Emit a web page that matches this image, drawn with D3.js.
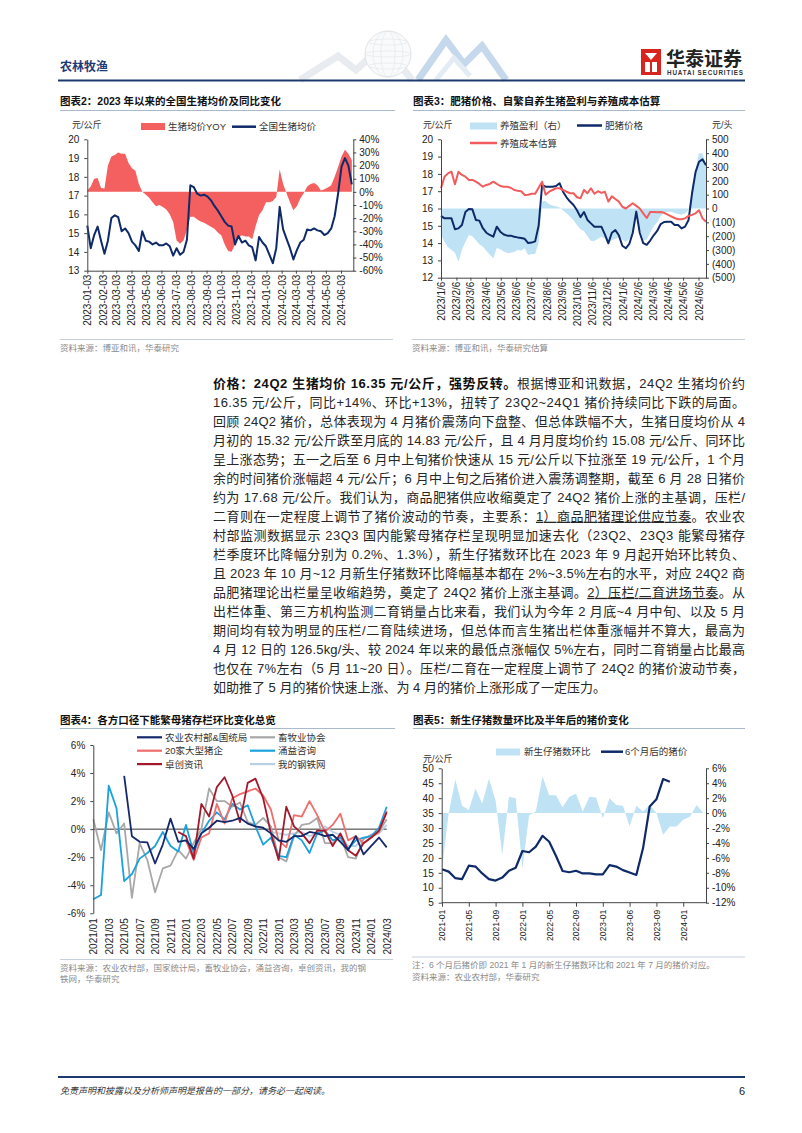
<!DOCTYPE html>
<html>
<head>
<meta charset="utf-8">
<script src="https://cdn.jsdelivr.net/npm/d3@7"></script>
<style>
    body { margin: 0; background: #fff; }
    svg text { font-family: "Liberation Sans", Arial, "Noto Sans CJK SC", sans-serif; }
    .tick text { font-size: 10px; fill: #222; }
    .title { font-size: 10.5px; font-weight: bold; fill: #111; }
    .src { font-size: 8.5px; fill: #8a8a8a; }
    .lg { font-size: 9.5px; fill: #333; }
    .unit { font-size: 9px; fill: #333; }
    .body { font-size: 13px; fill: #262626; }
</style>
</head>
<body>
<div id="page"></div>
<script>

// ===== 图表2 数据：2023年以来全国生猪均价（周度）及同比 =====
const c2Start = "2023-01-03";
const c2Price = [15.4,14.2,14.9,15.35,14.6,13.9,14.6,15.8,15.95,15.85,
    15.1,15.25,15.0,14.55,14.35,14.05,15.1,14.6,14.55,14.4,
    14.5,14.35,14.35,14.45,14.3,13.8,14.2,13.85,14.0,14.65,
    17.55,17.45,17.1,17.0,17.05,16.95,16.75,16.45,16.2,15.9,
    15.6,15.4,15.35,14.4,14.85,14.5,14.6,14.35,14.25,13.55,
    14.8,14.5,14.3,13.85,13.4,14.2,16.4,15.2,14.7,14.2,
    13.6,14.1,14.5,14.65,15.2,15.15,15.25,15.15,15.1,14.9,
    15.0,15.25,15.9,17.1,18.55,19.0,18.6,17.6];
const c2Yoy = [1,4,10,10.5,3,2.5,20,27,28,30,
    29,29,22,18,16,6,0,-2,-4.5,-8,
    -11,-10,-11.5,-13.5,-17,-23,-37,-39.5,-37,-29,
    -19,-19,-21,-22.5,-23.5,-25,-26.5,-28,-31,-33,
    -40,-45,-45.5,-40,-35,-33,-34,-34,-36,-26,
    -17.6,-14,-8,-8,-7,-4,17,6,-1,-8,
    -14,-11,-5,-1,4,6,6.8,5,1,2,
    3.4,5,11.5,19,27,32,29,24];
const c2DateTicks = ["2023-01-03","2023-02-03","2023-03-03","2023-04-03","2023-05-03","2023-06-03",
    "2023-07-03","2023-08-03","2023-09-03","2023-10-03","2023-11-03","2023-12-03",
    "2024-01-03","2024-02-03","2024-03-03","2024-04-03","2024-05-03","2024-06-03"];
const c2LeftTicks = [13,14,15,16,17,18,19,20];
const c2RightTicks = [-60,-50,-40,-30,-20,-10,0,10,20,30,40];

// ===== 图表3 数据：肥猪价格、养殖成本、自繁自养盈利（周度） =====
const c3Start = "2023-01-06";
const c3Price = [15.57,15.43,15.43,15.43,14.8,14.85,15.05,15.8,15.97,15.95,
    15.34,15.3,14.86,14.6,14.47,14.37,14.95,14.66,14.5,14.43,
    14.43,14.37,14.33,14.3,14.25,14.0,14.03,14.1,15.0,17.36,
    17.26,17.26,17.26,17.3,17.46,16.97,16.65,16.4,16.2,15.9,
    15.5,15.8,15.34,15.14,14.95,14.95,14.95,14.5,13.99,14.6,
    14.75,14.45,13.85,13.7,13.95,14.6,15.82,14.6,14.0,13.9,
    14.15,14.45,14.7,15.1,15.22,15.24,15.24,15.05,15.05,14.85,
    14.95,15.34,16.88,18.1,18.7,18.84,18.5];
const c3Cost = [17.17,17.84,18.03,18.13,17.4,18.13,17.94,17.84,17.65,17.65,
    17.55,17.42,17.26,17.36,17.42,17.55,17.42,17.3,17.26,17.26,
    17.2,17.07,17.03,17.0,16.78,16.8,16.85,16.85,17.2,17.55,
    16.8,16.97,17.07,17.17,17.17,17.07,16.97,16.88,16.88,16.65,
    16.59,17.07,16.88,17.17,16.85,17.0,16.9,16.97,16.4,16.7,
    16.55,16.4,16.1,16.0,16.15,16.3,16.15,16.0,15.72,15.45,
    15.8,15.8,15.78,15.8,15.75,15.65,15.55,15.45,15.38,15.38,
    15.43,15.57,15.63,15.72,15.9,15.43,15.24];
const c3Profit = [-190,-240,-278,-300,-320,-385,-300,-240,-192,-200,
    -230,-258,-276,-305,-335,-360,-285,-295,-310,-322,
    -320,-312,-300,-305,-288,-336,-329,-329,-250,50,
    55,30,22,16,8,-15,-35,-60,-85,-120,
    -150,-165,-200,-235,-234,-218,-204,-216,-260,-228,
    -220,-206,-225,-240,-220,-170,-70,-140,-228,-225,
    -175,-130,-100,-55,-28,-23,-23,-33,-40,-46,
    -35,-11,140,280,399,400,314];
const c3DateTicks = ["2023/1/6","2023/2/6","2023/3/6","2023/4/6","2023/5/6","2023/6/6",
    "2023/7/6","2023/8/6","2023/9/6","2023/10/6","2023/11/6","2023/12/6",
    "2024/1/6","2024/2/6","2024/3/6","2024/4/6","2024/5/6","2024/6/6"];
const c3LeftTicks = [12,13,14,15,16,17,18,19,20];
const c3RightTicks = [-500,-400,-300,-200,-100,0,100,200,300,400,500];

// ===== 图表4 数据：各方口径能繁母猪存栏环比（%，月度） =====
const c4Months = ["2021/01","2021/02","2021/03","2021/04","2021/05","2021/06","2021/07","2021/08","2021/09","2021/10","2021/11","2021/12",
    "2022/01","2022/02","2022/03","2022/04","2022/05","2022/06","2022/07","2022/08","2022/09","2022/10","2022/11","2022/12",
    "2023/01","2023/02","2023/03","2023/04","2023/05","2023/06","2023/07","2023/08","2023/09","2023/10","2023/11","2023/12",
    "2024/01","2024/02","2024/03"];
const c4Moa = [null,null,null,null,3.8,-0.5,-0.9,-0.95,-2.45,-1.1,0.75,-0.9,
    -0.8,-1.4,-0.3,0.1,0.6,0.5,0.6,0.8,0.4,0.2,0.1,-0.3,
    -0.8,-0.9,-0.5,-0.5,-0.2,-0.3,-0.5,-0.4,-0.9,-1.5,-0.5,-1.8,
    -1.2,-0.6,-1.3];
const c4Assoc = [0.7,-1.5,1.2,-0.3,0.4,-4.9,-1.0,-2.2,-4.5,-2.8,-2.6,-1.5,
    -2.1,-1.0,0.0,2.9,2.0,2.0,1.6,1.9,0.5,0.3,0.8,0.2,
    -2.0,-2.3,-0.5,0.3,0.4,0.8,-1.0,-1.0,-0.5,-2.0,-2.1,-0.7,
    -0.4,-0.2,0.7];
const c4Big20 = [null,null,null,null,null,null,null,null,null,null,null,null,
    -0.8,-2.2,-0.6,-0.3,1.8,0.4,2.2,2.5,2.7,2.9,2.4,1.4,
    -0.8,-1.3,1.0,0.9,2.0,1.0,-0.2,0.3,1.1,-0.8,-0.5,-1.0,
    -0.6,-0.2,1.3];
const c4Yongyi = [-5.0,-4.7,3.1,1.5,-3.7,-3.2,-2.1,-1.7,-1.2,-0.2,-1.2,-1.6,
    0.3,-1.7,-0.3,0.6,1.2,0.7,1.8,1.4,1.7,0.2,-1.1,-0.6,
    -1.9,-2.0,-0.4,-0.8,-1.7,-0.3,-0.1,-0.8,-0.6,-1.4,-0.8,-0.6,
    -0.5,0.1,1.6];
const c4Zhuochuang = [null,null,null,null,null,null,null,null,null,null,null,-0.2,
    -0.5,-2.1,1.8,0.9,3.0,3.7,2.4,0.5,3.3,3.6,2.2,-0.3,
    -2.2,1.6,0.2,-0.3,-1.0,-0.1,-0.1,-1.2,-0.3,-1.5,-1.9,-1.0,
    -0.6,-0.1,1.2];
const c4Mysteel = [null,null,null,null,null,null,null,null,null,null,null,null,
    null,null,null,null,null,null,null,null,null,null,null,-0.2,
    -0.3,-0.4,-0.3,-0.2,-0.5,-0.3,0.2,-0.2,-0.4,-1.2,-1.2,-0.7,
    -0.5,-0.3,0.3];
const c4Ticks = [-6,-4,-2,0,2,4,6];

// ===== 图表5 数据：新生仔猪数环比（%）与6个月后猪价（元/公斤） =====
const c5Piglet = [-7.5,0,4.5,1.0,0.4,3.3,1.3,4.6,1.7,-5.6,
    2.2,2.0,-7.4,-0.3,0.2,4.9,2.4,2.4,0.8,2.2,
    2.6,0.2,2.2,2.1,-0.7,2.0,1.1,1.0,-1.8,1.0,
    0.2,1.1,0,-2.9,-1.8,-1.8,-0.9,-0.5,1.1,0];
const c5Price = [16.2,15.4,13.2,12.9,17.4,17.1,14.8,12.9,12.4,13.4,
    15.7,16.7,22.3,21.9,23.8,27.4,25.4,20.7,15.6,15.2,
    15.7,14.8,14.8,14.5,14.5,17.6,17.1,15.9,15.1,14.3,
    23.2,37.2,39.6,46.4,45.5];
const c5TickLabels = ["2021-01","2021-05","2021-09","2022-01","2022-05","2022-09","2023-01","2023-06","2023-09","2024-01"];
const c5LeftTicks = [5,10,15,20,25,30,35,40,45,50];
const c5RightTicks = [-12,-10,-8,-6,-4,-2,0,2,4,6];

// ===== 正文 =====
const bodyLines = [
    [["价格：24Q2 生猪均价 16.35 元/公斤，强势反转。","b"],["根据博亚和讯数据，24Q2 生猪均价约",""]],
    [["16.35 元/公斤，同比+14%、环比+13%，扭转了 23Q2~24Q1 猪价持续同比下跌的局面。",""]],
    [["回顾 24Q2 猪价，总体表现为 4 月猪价震荡向下盘整、但总体跌幅不大，生猪日度均价从 4",""]],
    [["月初的 15.32 元/公斤跌至月底的 14.83 元/公斤，且 4 月月度均价约 15.08 元/公斤、同环比",""]],
    [["呈上涨态势；五一之后至 6 月中上旬猪价快速从 15 元/公斤以下拉涨至 19 元/公斤，1 个月",""]],
    [["余的时间猪价涨幅超 4 元/公斤；6 月中上旬之后猪价进入震荡调整期，截至 6 月 28 日猪价",""]],
    [["约为 17.68 元/公斤。我们认为，商品肥猪供应收缩奠定了 24Q2 猪价上涨的主基调，压栏/",""]],
    [["二育则在一定程度上调节了猪价波动的节奏，主要系：",""],["1）商品肥猪理论供应节奏","u"],["。农业农",""]],
    [["村部监测数据显示 23Q3 国内能繁母猪存栏呈现明显加速去化（23Q2、23Q3 能繁母猪存",""]],
    [["栏季度环比降幅分别为 0.2%、1.3%），新生仔猪数环比在 2023 年 9 月起开始环比转负、",""]],
    [["且 2023 年 10 月~12 月新生仔猪数环比降幅基本都在 2%~3.5%左右的水平，对应 24Q2 商",""]],
    [["品肥猪理论出栏量呈收缩趋势，奠定了 24Q2 猪价上涨主基调。",""],["2）压栏/二育进场节奏","u"],["。从",""]],
    [["出栏体重、第三方机构监测二育销量占比来看，我们认为今年 2 月底~4 月中旬、以及 5 月",""]],
    [["期间均有较为明显的压栏/二育陆续进场，但总体而言生猪出栏体重涨幅并不算大，最高为",""]],
    [["4 月 12 日的 126.5kg/头、较 2024 年以来的最低点涨幅仅 5%左右，同时二育销量占比最高",""]],
    [["也仅在 7%左右（5 月 11~20 日）。压栏/二育在一定程度上调节了 24Q2 的猪价波动节奏，",""]],
    [["如助推了 5 月的猪价快速上涨、为 4 月的猪价上涨形成了一定压力。",""]]
];

const NAVY = "#0f2a68";
const AXIS = "#444";

let parseDay = d3.timeParse("%Y-%m-%d");
let parseSlash = d3.timeParse("%Y/%m/%d");

let svg = d3.select("#page").append("svg").attr("width", 802).attr("height", 1133);
svg.append("rect").attr("width", 802).attr("height", 1133).attr("fill", "#fff");

// 坐标轴统一样式
function styleAxis(g) {
    g.select(".domain").attr("stroke", AXIS);
    g.selectAll(".tick line").attr("stroke", AXIS);
}

// x轴标签竖排（自下而上）
function rotateLabels(g, off) {
    g.selectAll(".tick text")
        .attr("transform", "rotate(-90)")
        .attr("x", -off).attr("y", 0).attr("dy", "0.35em")
        .style("text-anchor", "end");
}

function addTitle(x, y, lineY, x2, text) {
    svg.append("text").attr("class", "title").attr("x", x).attr("y", y).text(text);
    svg.append("line").attr("x1", x).attr("x2", x2).attr("y1", lineY).attr("y2", lineY)
        .attr("stroke", "#a8bacb").attr("stroke-width", 1);
}

function addSource(x, lineY, x2, lines) {
    svg.append("line").attr("x1", x).attr("x2", x2).attr("y1", lineY).attr("y2", lineY)
        .attr("stroke", "#c3d0dc").attr("stroke-width", 1);
    lines.forEach((t, i) => {
        svg.append("text").attr("class", "src").attr("x", x).attr("y", lineY + 11 + i * 11.5).text(t);
    });
}

function initHeader() {
    // 装饰图形：地球与折线
    let deco = svg.append("g").attr("opacity", 0.5);
    deco.append("path").attr("d", "M300,80 L338,56 L356,70 L384,44 L412,80")
        .attr("fill", "none").attr("stroke", "#d3d9e0").attr("stroke-width", 7);
    deco.append("circle").attr("cx", 388).attr("cy", 54).attr("r", 23)
        .attr("fill", "#f4f6f8").attr("stroke", "#b8c0c8").attr("stroke-width", 0.8);
    [7, 15].forEach(rx => deco.append("ellipse").attr("cx", 388).attr("cy", 54).attr("rx", rx).attr("ry", 23)
        .attr("fill", "none").attr("stroke", "#c4cbd2").attr("stroke-width", 0.6));
    [-12, 0, 12].forEach(dy => deco.append("ellipse").attr("cx", 388).attr("cy", 54 + dy)
        .attr("rx", Math.sqrt(23 * 23 - dy * dy)).attr("ry", 3)
        .attr("fill", "none").attr("stroke", "#c4cbd2").attr("stroke-width", 0.6));
    deco.append("path").attr("d", "M418,80 L446,40 L464,64 L482,46 L506,80")
        .attr("fill", "none").attr("stroke", "#8fb2d8").attr("stroke-width", 7);
    deco.append("path").attr("d", "M436,80 L454,58 L470,76")
        .attr("fill", "none").attr("stroke", "#c9d9ea").attr("stroke-width", 5);

    svg.append("text").attr("x", 60).attr("y", 71).attr("font-size", 12).attr("font-weight", "bold")
        .attr("fill", "#1d3a78").text("农林牧渔");
    svg.append("line").attr("x1", 58).attr("x2", 745).attr("y1", 80.5).attr("y2", 80.5)
        .attr("stroke", "#1d3a70").attr("stroke-width", 2.2);

    // logo
    let logo = svg.append("g");
    logo.append("rect").attr("x", 641).attr("y", 49).attr("width", 20).attr("height", 26).attr("fill", "#d8251d");
    logo.append("path").attr("d", "M645,53 L657,53 L651,60 Z M645,62 L650,62 L650,72 L645,72 Z M652,62 L657,62 L657,72 L652,72 Z")
        .attr("fill", "#fff");
    logo.append("text").attr("x", 666).attr("y", 66).attr("font-size", 19).attr("font-weight", "bold")
        .attr("fill", "#222").text("华泰证券");
    logo.append("text").attr("x", 667).attr("y", 74.5).attr("font-size", 6.3).attr("font-weight", "bold")
        .attr("fill", "#333").attr("textLength", 76).text("HUATAI SECURITIES");
}

function drawChart2() {
    addTitle(60, 105, 110.5, 395, "图表2：2023 年以来的全国生猪均价及同比变化");
    let g = svg.append("g");
    let x = d3.scaleTime().domain([parseDay("2023-01-03"), parseDay("2024-06-28")]).range([87.3, 353.3]);
    let yL = d3.scaleLinear().domain([13, 20]).range([270.7, 139.3]);
    let yR = d3.scaleLinear().domain([-60, 40]).range([270.7, 139.3]);
    let start = parseDay(c2Start);
    let data = c2Price.map((p, i) => ({date: d3.timeDay.offset(start, 7 * i), price: p, yoy: c2Yoy[i]}));

    g.append("path").datum(data).attr("fill", "#f45f5f")
        .attr("d", d3.area().x(d => x(d.date)).y0(yR(0)).y1(d => yR(d.yoy)));
    g.append("path").datum(data).attr("fill", "none").attr("stroke", NAVY).attr("stroke-width", 2)
        .attr("stroke-linejoin", "round")
        .attr("d", d3.line().x(d => x(d.date)).y(d => yL(d.price)));

    let axL = g.append("g").attr("transform", "translate(87.3,0)")
        .call(d3.axisLeft(yL).tickValues(c2LeftTicks).tickFormat(d => d).tickSize(3).tickSizeOuter(0).tickPadding(5));
    let axR = g.append("g").attr("transform", "translate(353.3,0)")
        .call(d3.axisRight(yR).tickValues(c2RightTicks).tickFormat(d => d + "%").tickSize(3).tickSizeOuter(0).tickPadding(3));
    let axB = g.append("g").attr("transform", "translate(0,270.7)")
        .call(d3.axisBottom(x).tickValues(c2DateTicks.map(parseDay)).tickFormat(d3.timeFormat("%Y-%m-%d")).tickSize(3).tickSizeOuter(0));
    [axL, axR, axB].forEach(styleAxis);
    rotateLabels(axB, 4);

    // 图例
    svg.append("text").attr("class", "unit").attr("x", 72).attr("y", 128).text("元/公斤");
    svg.append("rect").attr("x", 141).attr("y", 123).attr("width", 24).attr("height", 7).attr("fill", "#f45f5f");
    svg.append("text").attr("class", "lg").attr("x", 168).attr("y", 130).text("生猪均价YOY");
    svg.append("line").attr("x1", 232).attr("x2", 256).attr("y1", 126.7).attr("y2", 126.7).attr("stroke", NAVY).attr("stroke-width", 2.5);
    svg.append("text").attr("class", "lg").attr("x", 259).attr("y", 130).text("全国生猪均价");

    addSource(60, 339.5, 393, ["资料来源：博亚和讯，华泰研究"]);
}

function drawChart3() {
    addTitle(413, 105, 110.5, 745, "图表3：肥猪价格、自繁自养生猪盈利与养殖成本估算");
    let g = svg.append("g");
    let x = d3.scaleTime().domain([parseDay("2023-01-06"), parseDay("2024-06-21")]).range([441, 706]);
    let yL = d3.scaleLinear().domain([12, 20]).range([277.7, 139.3]);
    let yR = d3.scaleLinear().domain([-500, 500]).range([277.7, 139.3]);
    let start = parseDay(c3Start);
    let data = c3Price.map((p, i) => ({date: d3.timeDay.offset(start, 7 * i), price: p, cost: c3Cost[i], profit: c3Profit[i]}));

    g.append("path").datum(data).attr("fill", "#bfe3f5")
        .attr("d", d3.area().x(d => x(d.date)).y0(yR(0)).y1(d => yR(d.profit)));
    g.append("path").datum(data).attr("fill", "none").attr("stroke", NAVY).attr("stroke-width", 2)
        .attr("stroke-linejoin", "round")
        .attr("d", d3.line().x(d => x(d.date)).y(d => yL(d.price)));
    g.append("path").datum(data).attr("fill", "none").attr("stroke", "#f25c5c").attr("stroke-width", 2)
        .attr("stroke-linejoin", "round")
        .attr("d", d3.line().x(d => x(d.date)).y(d => yL(d.cost)));

    let axL = g.append("g").attr("transform", "translate(441,0)")
        .call(d3.axisLeft(yL).tickValues(c3LeftTicks).tickFormat(d => d).tickSize(3).tickSizeOuter(0).tickPadding(5));
    let axR = g.append("g").attr("transform", "translate(706,0)")
        .call(d3.axisRight(yR).tickValues(c3RightTicks)
            .tickFormat(d => d < 0 ? "(" + (-d) + ")" : d).tickSize(3).tickSizeOuter(0).tickPadding(3));
    let axB = g.append("g").attr("transform", "translate(0,277.7)")
        .call(d3.axisBottom(x).tickValues(c3DateTicks.map(parseSlash)).tickFormat(d3.timeFormat("%Y/%-m/%-d")).tickSize(3).tickSizeOuter(0));
    [axL, axR, axB].forEach(styleAxis);
    rotateLabels(axB, 4);

    svg.append("text").attr("class", "unit").attr("x", 423).attr("y", 128).text("元/公斤");
    svg.append("text").attr("class", "unit").attr("x", 712).attr("y", 128).text("元/头");
    svg.append("rect").attr("x", 470).attr("y", 122.5).attr("width", 27).attr("height", 7).attr("fill", "#bfe3f5");
    svg.append("text").attr("class", "lg").attr("x", 500).attr("y", 129).text("养殖盈利（右）");
    svg.append("line").attr("x1", 577).attr("x2", 602).attr("y1", 125.5).attr("y2", 125.5).attr("stroke", NAVY).attr("stroke-width", 2.5);
    svg.append("text").attr("class", "lg").attr("x", 605).attr("y", 129).text("肥猪价格");
    svg.append("line").attr("x1", 470).attr("x2", 497).attr("y1", 143).attr("y2", 143).attr("stroke", "#f25c5c").attr("stroke-width", 2.5);
    svg.append("text").attr("class", "lg").attr("x", 500).attr("y", 146.5).text("养殖成本估算");

    addSource(412, 339.5, 745, ["资料来源：博亚和讯，华泰研究估算"]);
}

function drawBody() {
    bodyLines.forEach((segs, k) => {
        let t = svg.append("text").attr("class", "body").attr("x", 213).attr("y", 387.5 + 19.03 * k);
        segs.forEach(s => {
            let ts = t.append("tspan").text(s[0]);
            if (s[1] === "b") ts.attr("font-weight", "bold").attr("fill", "#111");
            if (s[1] === "u") ts.attr("text-decoration", "underline");
        });
        if (k < bodyLines.length - 1) t.attr("textLength", 532).attr("lengthAdjust", "spacing");
    });
}

function drawChart4() {
    addTitle(60, 724, 728.5, 395, "图表4：各方口径下能繁母猪存栏环比变化总览");
    let g = svg.append("g");
    let x = d3.scaleLinear().domain([0, c4Months.length - 1]).range([93.3, 386.7]);
    let y = d3.scaleLinear().domain([-6, 6]).range([913.3, 745]);

    // 零线
    g.append("line").attr("x1", x(0)).attr("x2", x(c4Months.length - 1)).attr("y1", y(0)).attr("y2", y(0))
        .attr("stroke", "#333").attr("stroke-width", 1);

    let series = [
        {name: "农业农村部&国统局", color: "#15296a", values: c4Moa},
        {name: "畜牧业协会", color: "#a8a8a8", values: c4Assoc},
        {name: "20家大型猪企", color: "#ef6d6d", values: c4Big20},
        {name: "涌益咨询", color: "#1ba2dc", values: c4Yongyi},
        {name: "卓创资讯", color: "#a3192c", values: c4Zhuochuang},
        {name: "我的钢铁网", color: "#b8d1e6", values: c4Mysteel}
    ];
    let line = d3.line().defined(d => d != null).x((d, i) => x(i)).y(d => y(d));
    // 绘制顺序：浅色在下
    [5, 1, 3, 2, 4, 0].forEach(k => {
        g.append("path").datum(series[k].values).attr("fill", "none").attr("stroke", series[k].color)
            .attr("stroke-width", 1.8).attr("stroke-linejoin", "round").attr("d", line);
    });

    let axL = g.append("g").attr("transform", "translate(93.3,0)")
        .call(d3.axisLeft(y).tickValues(c4Ticks).tickFormat(d => d + "%").tickSize(3).tickSizeOuter(0).tickPadding(5));
    styleAxis(axL);
    let tickIdx = c4Months.map((m, i) => i).filter(i => i % 2 === 0);
    let axB = g.append("g").attr("transform", "translate(0,913.3)")
        .call(d3.axisBottom(x).tickValues(tickIdx).tickFormat(i => c4Months[i]).tickSize(0));
    axB.select(".domain").remove();
    rotateLabels(axB, 5);

    series.forEach((s, k) => {
        let col = k % 2, row = Math.floor(k / 2);
        let lx = col === 0 ? 137 : 250, ly = 737.3 + row * 13.4;
        svg.append("line").attr("x1", lx).attr("x2", lx + 25).attr("y1", ly).attr("y2", ly)
            .attr("stroke", s.color).attr("stroke-width", 2.2);
        svg.append("text").attr("class", "lg").attr("x", lx + 28).attr("y", ly + 3.4).text(s.name);
    });

    addSource(60, 959.5, 393, ["资料来源：农业农村部，国家统计局，畜牧业协会，涌益咨询，卓创资讯，我的钢", "铁网，华泰研究"]);
}

function drawChart5() {
    addTitle(413, 724, 728.5, 745, "图表5：新生仔猪数量环比及半年后的猪价变化");
    let g = svg.append("g");
    let x = d3.scaleLinear().domain([0, 39.4]).range([442, 706]);
    let yL = d3.scaleLinear().domain([5, 50]).range([902.7, 768.3]);
    let yR = d3.scaleLinear().domain([-12, 6]).range([902.7, 768.3]);

    g.append("path").datum(c5Piglet).attr("fill", "#bfe3f5")
        .attr("d", d3.area().x((d, i) => x(i)).y0(yR(0)).y1(d => yR(d)));
    g.append("path").datum(c5Price).attr("fill", "none").attr("stroke", NAVY).attr("stroke-width", 2.2)
        .attr("stroke-linejoin", "round")
        .attr("d", d3.line().x((d, i) => x(i)).y(d => yL(d)));

    let axL = g.append("g").attr("transform", "translate(441.7,0)")
        .call(d3.axisLeft(yL).tickValues(c5LeftTicks).tickSize(3).tickSizeOuter(0).tickPadding(5));
    let axR = g.append("g").attr("transform", "translate(706,0)")
        .call(d3.axisRight(yR).tickValues(c5RightTicks).tickFormat(d => d + "%").tickSize(3).tickSizeOuter(0).tickPadding(3));
    let axB = g.append("g").attr("transform", "translate(0,902.7)")
        .call(d3.axisBottom(x).tickValues(c5TickLabels.map((t, i) => i * 4))
            .tickFormat((d, i) => c5TickLabels[i]).tickSize(4).tickSizeOuter(0));
    axB.select(".domain").attr("d", "M441.7,0H706");
    [axL, axR, axB].forEach(styleAxis);
    rotateLabels(axB, 7);
    axB.selectAll(".tick text").style("font-size", "8.5px");

    svg.append("text").attr("class", "unit").attr("x", 423).attr("y", 762).text("元/公斤");
    svg.append("rect").attr("x", 496).attr("y", 748.5).attr("width", 24).attr("height", 7).attr("fill", "#bfe3f5");
    svg.append("text").attr("class", "lg").attr("x", 524).attr("y", 755).text("新生仔猪数环比");
    svg.append("line").attr("x1", 601).attr("x2", 623).attr("y1", 751.7).attr("y2", 751.7).attr("stroke", NAVY).attr("stroke-width", 2.5);
    svg.append("text").attr("class", "lg").attr("x", 625).attr("y", 755).text("6个月后的猪价");

    addSource(412, 957, 745, ["注：6 个月后猪价即 2021 年 1 月的新生仔猪数环比和 2021 年 7 月的猪价对应。", "资料来源：农业农村部，华泰研究"]);
}

function initFooter() {
    svg.append("line").attr("x1", 58).attr("x2", 745).attr("y1", 1077).attr("y2", 1077)
        .attr("stroke", "#1d3a70").attr("stroke-width", 2);
    svg.append("text").attr("x", 60).attr("y", 1094).attr("font-size", 9).attr("font-style", "italic")
        .attr("fill", "#333").text("免责声明和披露以及分析师声明是报告的一部分，请务必一起阅读。");
    svg.append("text").attr("x", 745).attr("y", 1095).attr("font-size", 11).attr("text-anchor", "end")
        .attr("fill", "#222").text("6");
}

function draw() {
    initHeader();
    drawChart2();
    drawChart3();
    drawBody();
    drawChart4();
    drawChart5();
    initFooter();
}
draw();
</script>
</body>
</html>
